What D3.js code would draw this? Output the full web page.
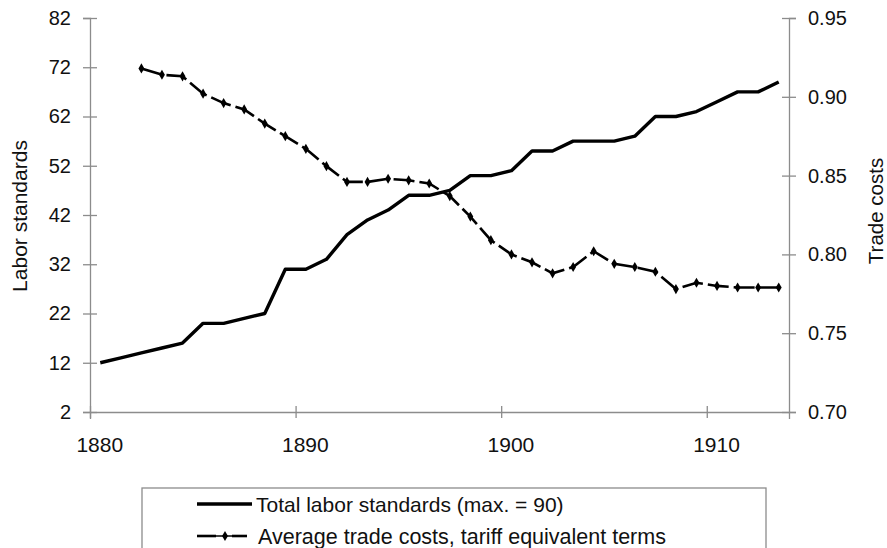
<!DOCTYPE html>
<html>
<head>
<meta charset="utf-8">
<script src="https://cdn.jsdelivr.net/npm/d3@7"></script>
<style>
  body { margin: 0; background: #fff; }
  text { font-family: "Liberation Sans", Arial, sans-serif; fill: #111; }
</style>
</head>
<body>
<script>
// labour standards, 1880-1913
var laborYears = d3.range(1880, 1914);
var laborValues = [12, 13, 14, 15, 16, 20, 20, 21, 22, 31, 31, 33, 38, 41, 43, 46, 46, 47,
    50, 50, 51, 55, 55, 57, 57, 57, 58, 62, 62, 63, 65, 67, 67, 69];

// trade costs, 1882-1913
var tradeYears = d3.range(1882, 1914);
var tradeValues = [0.918, 0.914, 0.913, 0.902, 0.896, 0.892, 0.883, 0.875, 0.867, 0.856,
    0.846, 0.846, 0.848, 0.847, 0.845, 0.837, 0.824, 0.809, 0.800, 0.795, 0.788, 0.792,
    0.802, 0.794, 0.792, 0.789, 0.778, 0.782, 0.780, 0.779, 0.779, 0.779];

var leftTicks = [2, 12, 22, 32, 42, 52, 62, 72, 82];
var rightTicks = [0.70, 0.75, 0.80, 0.85, 0.90, 0.95];
var yearTicks = [1880, 1890, 1900, 1910];
var legendLabels = ["Total labor standards (max. = 90)", "Average trade costs, tariff equivalent terms"];

var width = 887;
var height = 548;
var plot = { left: 90, right: 789, top: 18, bottom: 412 };

var svg = d3.select("body").append("svg")
    .attr("width", width)
    .attr("height", height);

var x = d3.scaleLinear().domain([1880, 1914]).range([plot.left, plot.right]);
var yL = d3.scaleLinear().domain([2, 82]).range([plot.bottom, plot.top]);
var yR = d3.scaleLinear().domain([0.70, 0.95]).range([plot.bottom, plot.top]);

var axisColor = "#8c8c8c";

// left axis
var gL = svg.append("g")
    .attr("transform", "translate(" + x(1880) + ",0)")
    .call(d3.axisLeft(yL).tickValues(leftTicks).tickSize(7).tickPadding(12).tickFormat(d3.format("d")));

// right axis
var gR = svg.append("g")
    .attr("transform", "translate(" + x(1914) + ",0)")
    .call(d3.axisRight(yR).tickValues(rightTicks).tickSize(7).tickPadding(12).tickFormat(d3.format(".2f")));

// bottom axis (labels centred in the category)
var gB = svg.append("g")
    .attr("transform", "translate(0," + plot.bottom + ")")
    .call(d3.axisBottom(x).tickValues(yearTicks).tickSize(7).tickFormat(""));
gB.selectAll(".tick").append("text")
    .attr("x", x(1880.45) - x(1880))
    .attr("y", 40)
    .attr("text-anchor", "middle")
    .style("font-size", "21px")
    .text(function(d) { return d; });

[gL, gR, gB].forEach(function(g) {
    g.select(".domain").attr("stroke", axisColor).attr("stroke-width", 1.3);
    g.selectAll(".tick line").attr("stroke", axisColor).attr("stroke-width", 1.3);
    g.selectAll(".tick text").style("font-size", "20px").attr("fill", "#111")
        .style("font-family", "'Liberation Sans', Arial, sans-serif");
});
gB.selectAll(".tick text").style("font-size", "21px");
gL.selectAll(".tick line").attr("x1", 7).attr("x2", -7);
gR.selectAll(".tick line").attr("x1", -7).attr("x2", 7);
gB.selectAll(".tick line").attr("y1", -6).attr("y2", 6);

// axis titles
svg.append("text")
    .attr("transform", "translate(27,216) rotate(-90)")
    .attr("text-anchor", "middle")
    .style("font-size", "21px")
    .text("Labor standards");
svg.append("text")
    .attr("transform", "translate(883,211) rotate(-90)")
    .attr("text-anchor", "middle")
    .style("font-size", "20.5px")
    .text("Trade costs");

// lines
var laborLine = d3.line()
    .x(function(d, i) { return x(laborYears[i] + 0.5); })
    .y(function(d) { return yL(d); });
var tradeLine = d3.line()
    .x(function(d, i) { return x(tradeYears[i] + 0.5); })
    .y(function(d) { return yR(d); });

svg.append("path")
    .datum(tradeValues)
    .attr("d", tradeLine)
    .attr("fill", "none")
    .attr("stroke", "#000")
    .attr("stroke-width", 2.6)
    .attr("stroke-dasharray", "21,5");

var diamond = d3.symbol().type(d3.symbolDiamond).size(30);
svg.append("g").selectAll("path")
    .data(tradeValues)
    .enter().append("path")
    .attr("d", diamond)
    .attr("transform", function(d, i) { return "translate(" + x(tradeYears[i] + 0.5) + "," + yR(d) + ")"; })
    .attr("fill", "#000");

svg.append("path")
    .datum(laborValues)
    .attr("d", laborLine)
    .attr("fill", "none")
    .attr("stroke", "#000")
    .attr("stroke-width", 3.4)
    .attr("stroke-linejoin", "round");

// legend
var legend = svg.append("g");
legend.append("rect")
    .attr("x", 142).attr("y", 488)
    .attr("width", 624).attr("height", 80)
    .attr("fill", "#fff")
    .attr("stroke", axisColor)
    .attr("stroke-width", 1.3);

legend.append("line")
    .attr("x1", 197).attr("x2", 252).attr("y1", 504).attr("y2", 504)
    .attr("stroke", "#000").attr("stroke-width", 3.4);
legend.append("line")
    .attr("x1", 197).attr("x2", 216).attr("y1", 536).attr("y2", 536)
    .attr("stroke", "#000").attr("stroke-width", 2.6);
legend.append("line")
    .attr("x1", 232).attr("x2", 247).attr("y1", 536).attr("y2", 536)
    .attr("stroke", "#000").attr("stroke-width", 2.6);
legend.append("line")
    .attr("x1", 216).attr("x2", 232).attr("y1", 536).attr("y2", 536)
    .attr("stroke", "#000").attr("stroke-width", 1.5);
legend.append("path")
    .attr("d", diamond)
    .attr("transform", "translate(225,536)")
    .attr("fill", "#000");

legend.selectAll("text.lg")
    .data(legendLabels)
    .enter().append("text")
    .attr("class", "lg")
    .attr("x", function(d, i) { return i ? 258 : 256; })
    .attr("y", function(d, i) { return 512 + i * 32; })
    .style("font-size", function(d, i) { return i ? "21.5px" : "21px"; })
    .text(function(d) { return d; });
</script>
</body>
</html>
